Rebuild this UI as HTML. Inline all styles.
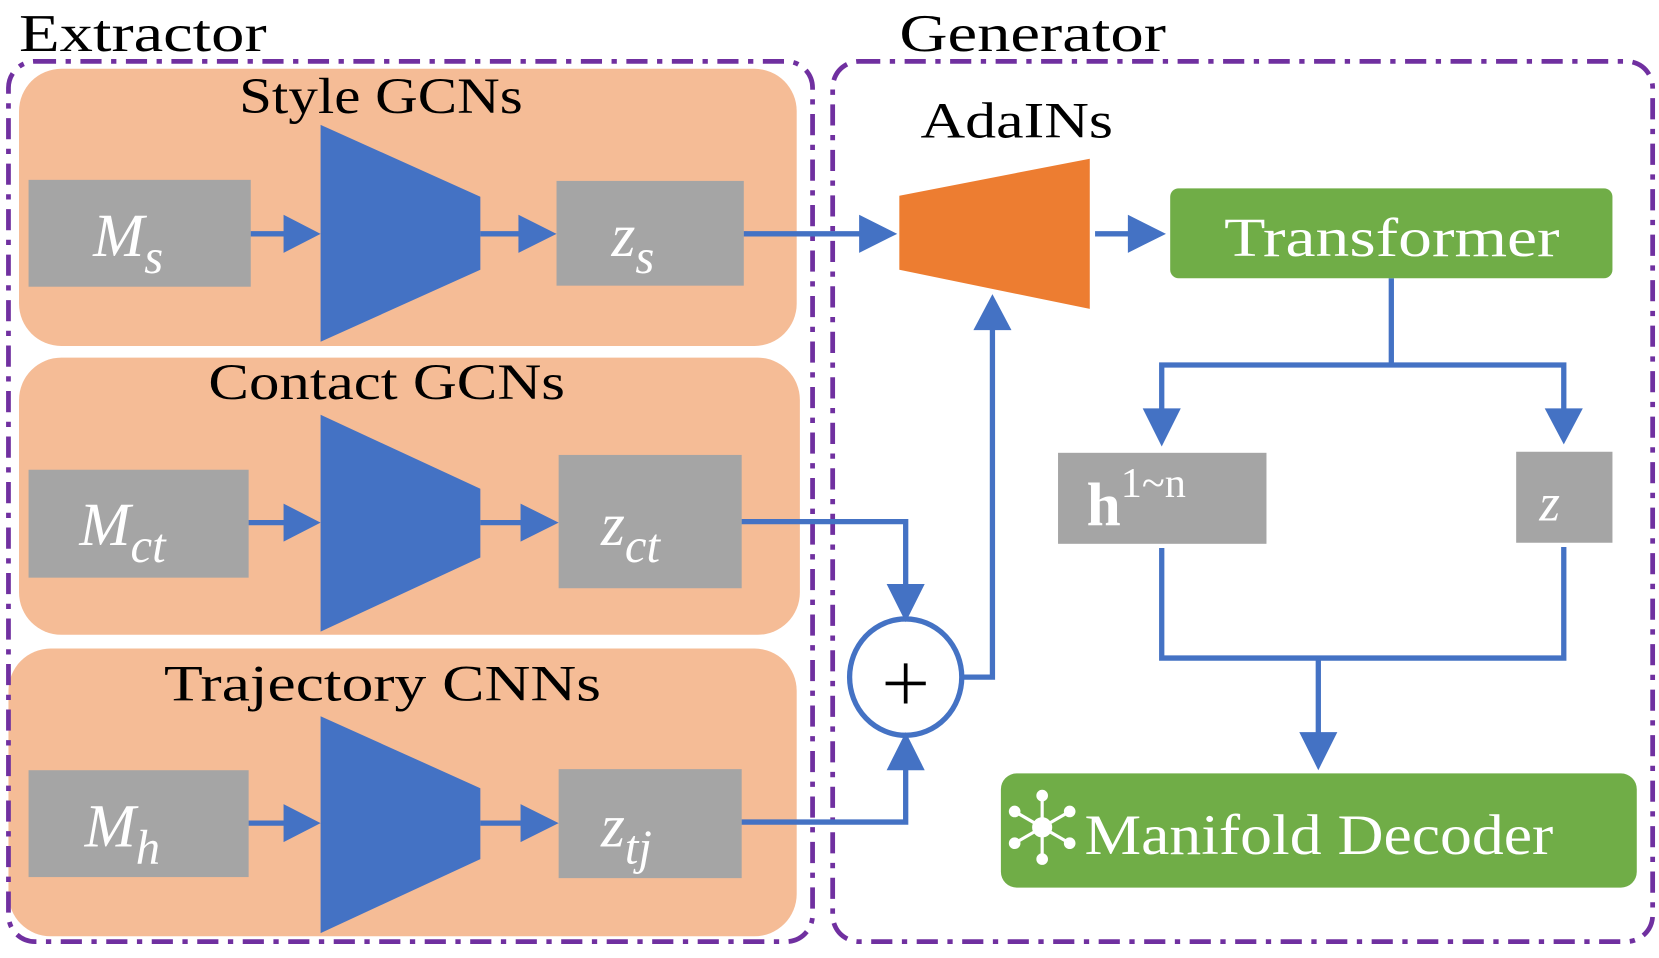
<!DOCTYPE html>
<html><head><meta charset="utf-8"><style>
html,body{margin:0;padding:0;background:#fff;}
svg{display:block;}
text{font-family:"Liberation Serif",serif;}
</style></head><body>
<svg width="1659" height="958" viewBox="0 0 1568 905.5" preserveAspectRatio="none" xmlns="http://www.w3.org/2000/svg">
<text x="18" y="48" font-size="50" textLength="234" lengthAdjust="spacingAndGlyphs">Extractor</text>
<text x="850" y="48" font-size="50" textLength="252" lengthAdjust="spacingAndGlyphs">Generator</text>
<rect x="18" y="65" width="735" height="262" rx="40" fill="#F5BC96"/>
<rect x="18" y="338" width="738" height="262" rx="40" fill="#F5BC96"/>
<rect x="8" y="613" width="745" height="272" rx="40" fill="#F5BC96"/>
<rect x="8" y="58" width="760" height="832" rx="25" fill="none" stroke="#7030A0" stroke-width="4.5" stroke-dasharray="20,9,5,9"/>
<rect x="787" y="58" width="775" height="832" rx="25" fill="none" stroke="#7030A0" stroke-width="4.5" stroke-dasharray="20,9,5,9"/>
<text x="226" y="107" font-size="48" textLength="268" lengthAdjust="spacingAndGlyphs">Style GCNs</text>
<text x="197" y="377" font-size="48" textLength="337" lengthAdjust="spacingAndGlyphs">Contact GCNs</text>
<text x="155" y="662" font-size="48" textLength="413" lengthAdjust="spacingAndGlyphs">Trajectory CNNs</text>
<g fill="#A5A5A5">
<rect x="27" y="170" width="210" height="101"/>
<rect x="526" y="171" width="177" height="99"/>
<rect x="27" y="444" width="208" height="102"/>
<rect x="528" y="430" width="173" height="126"/>
<rect x="27" y="728" width="208" height="101"/>
<rect x="528" y="727" width="173" height="103"/>
<rect x="1000" y="428" width="197" height="86"/>
<rect x="1433" y="427" width="91" height="86"/>
</g>
<g fill="#fff" font-style="italic" font-size="58">
<text x="88" y="242">M<tspan font-size="46" dy="16">s</tspan></text>
<text x="578" y="242">z<tspan font-size="46" dy="16">s</tspan></text>
<text x="75" y="515">M<tspan font-size="46" dy="16">ct</tspan></text>
<text x="568" y="515">z<tspan font-size="46" dy="16">ct</tspan></text>
<text x="80" y="800">M<tspan font-size="46" dy="16">h</tspan></text>
<text x="568" y="800">z<tspan font-size="46" dy="16">tj</tspan></text>
<text x="1455" y="492" font-size="50">z</text>
</g>
<text x="1027" y="496" fill="#fff" font-size="58" font-weight="bold">h<tspan font-size="40" dy="-26" font-weight="normal">1~n</tspan></text>
<g fill="#4472C4">
<polygon points="303,118 454,186 454,255 303,323"/>
<polygon points="303,392 454,462 454,527 303,597"/>
<polygon points="303,677 454,745 454,812 303,882"/>
</g>
<polygon points="850,185 1030,150 1030,292 850,255" fill="#ED7D31"/>
<text x="870" y="130" font-size="48" textLength="182" lengthAdjust="spacingAndGlyphs">AdaINs</text>
<g stroke="#4472C4" stroke-width="5" fill="none">
<path d="M237 221H270"/><path d="M454 221H492"/>
<path d="M235 494H270"/><path d="M454 494H494"/>
<path d="M235 778H270"/><path d="M454 778H494"/>
<path d="M703 221H815"/>
<path d="M1035 221H1068"/>
<path d="M701 493H856V555"/>
<path d="M701 777H856V725"/>
<path d="M909 640H938V310"/>
<path d="M1315 263V345H1098V390M1315 345H1478V390"/>
<path d="M1098 518V622H1478V517M1246 622V695"/>
</g>
<ellipse cx="856" cy="640" rx="53" ry="55" fill="#fff" stroke="#4472C4" stroke-width="5"/>
<path d="M856 627V665M837 646H875" stroke="#000" stroke-width="3.5"/>
<g fill="#4472C4">
<polygon points="268,203 303,221 268,239"/>
<polygon points="490,203 526,221 490,239"/>
<polygon points="268,476 303,494 268,512"/>
<polygon points="492,476 528,494 492,512"/>
<polygon points="268,760 303,778 268,796"/>
<polygon points="492,760 528,778 492,796"/>
<polygon points="812,203 848,221 812,239"/>
<polygon points="1066,203 1102,221 1066,239"/>
<polygon points="838,552 874,552 856,588"/>
<polygon points="838,728 874,728 856,692"/>
<polygon points="920,312 956,312 938,278"/>
<polygon points="1080,386 1116,386 1098,422"/>
<polygon points="1460,386 1496,386 1478,420"/>
<polygon points="1228,692 1264,692 1246,728"/>
</g>
<rect x="1106" y="178" width="418" height="85" rx="8" fill="#70AD47"/>
<text x="1157" y="242" fill="#fff" font-size="52" textLength="317" lengthAdjust="spacingAndGlyphs">Transformer</text>
<rect x="946" y="731" width="601" height="108" rx="15" fill="#70AD47"/>
<g stroke="#fff" stroke-width="3" fill="#fff">
<path d="M985 752V812M959 767L1011 797M959 797L1011 767"/>
<circle cx="985" cy="782" r="8"/>
<circle cx="985" cy="752" r="4"/><circle cx="985" cy="812" r="4"/>
<circle cx="959" cy="767" r="4"/><circle cx="1011" cy="797" r="4"/>
<circle cx="959" cy="797" r="4"/><circle cx="1011" cy="767" r="4"/>
</g>
<text x="1025" y="807" fill="#fff" font-size="54" textLength="443" lengthAdjust="spacingAndGlyphs">Manifold Decoder</text>
</svg>
</body></html>
